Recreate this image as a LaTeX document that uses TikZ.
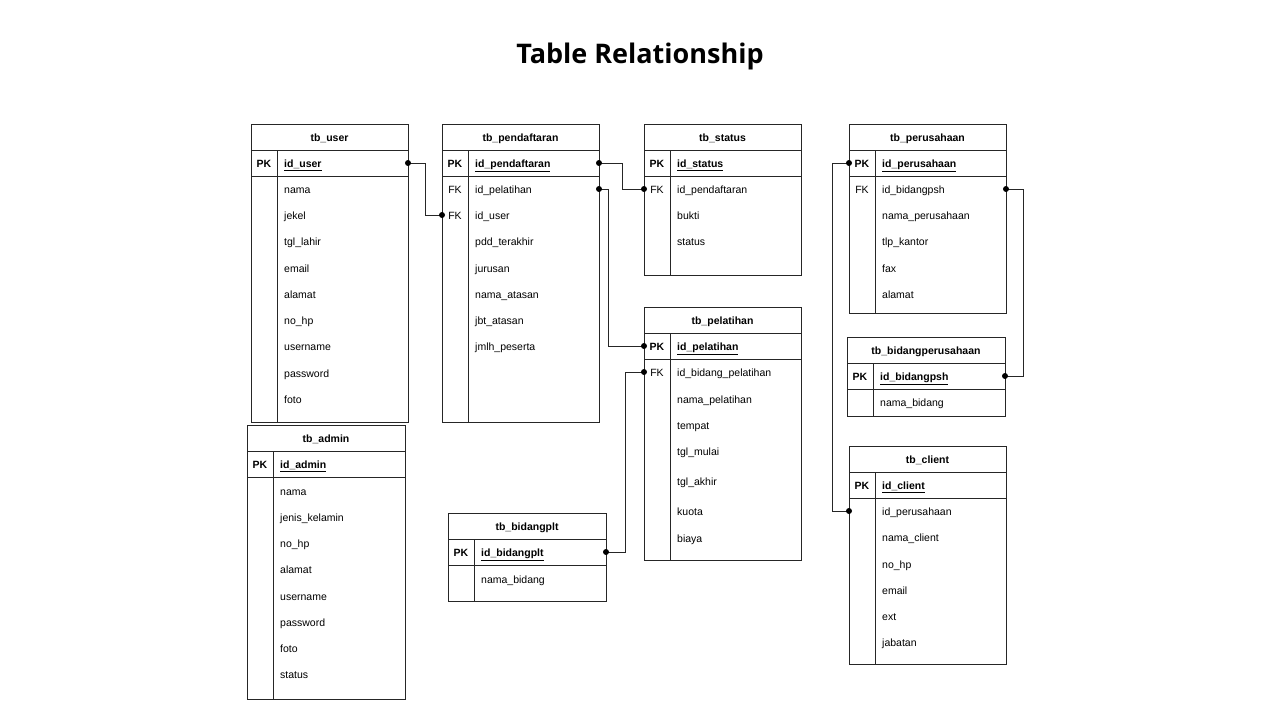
\documentclass[tikz,border=0pt]{standalone}
\usepackage{tikz}
\usepackage{fontspec}
\setmainfont{Liberation Sans}
\newfontfamily\titlefont{Open Sans}
\usetikzlibrary{calc}
\def\tbframe(#1,#2,#3,#4,#5){\draw[tbline] (#1,#2) rectangle (#3,#4); \draw[tbline] (#1,#2+26) -- (#3,#2+26); \draw[tbline] (#1,#2+52) -- (#3,#2+52); \draw[tbline] (#5,#2+26) -- (#5,#4);}

\begin{document}
\begin{tikzpicture}[x=1pt, y=-1pt,
		tbline/.style={line width=0.8pt, color=black!85},
		link/.style={line width=0.8pt, color=black!85},
		dot/.style={fill=black},
		cell/.style={inner sep=0pt, text height=9.5pt, text depth=0pt, font=\fontsize{10.5}{12}\selectfont},
		tbhead/.style={cell, font=\fontsize{10.5}{12}\selectfont\bfseries},
		pkey/.style={cell, font=\fontsize{10.5}{12}\selectfont\bfseries},
		fkey/.style={cell},
		pkfield/.style={cell, anchor=west, font=\fontsize{10.5}{12}\selectfont\bfseries},
		field/.style={cell, anchor=west}]
			%%%%% START %%%%%
			
			\useasboundingbox[fill=white] (0,0) rectangle (1280,720);
			
			\node[anchor=base, font=\titlefont\bfseries\fontsize{27}{32}\selectfont] (title) at (640,63) {Table Relationship};
			
			% tb_user
			\tbframe(251,124,408,422,277)
			\node[tbhead] (user) at (329.5,137) {tb\_user};
			\node[pkey] at (264,163) {PK};
			\node[pkfield] (user-id) at (284,163) {\underline{id\_user}};
			\node[field] at (284,189) {nama};
			\node[field] at (284,215) {jekel};
			\node[field] at (284,241) {tgl\_lahir};
			\node[field] at (284,268) {email};
			\node[field] at (284,294) {alamat};
			\node[field] at (284,320) {no\_hp};
			\node[field] at (284,346) {username};
			\node[field] at (284,373) {password};
			\node[field] at (284,399) {foto};
			\coordinate (user-pk) at (408,163);
			
			% tb_pendaftaran
			\tbframe(442,124,599,422,468)
			\node[tbhead] (pend) at (520.5,137) {tb\_pendaftaran};
			\node[pkey] at (455,163) {PK};
			\node[pkfield] (pend-id) at (475,163) {\underline{id\_pendaftaran}};
			\node[fkey] at (455,189) {FK};
			\node[field] (pend-plt) at (475,189) {id\_pelatihan};
			\node[fkey] at (455,215) {FK};
			\node[field] (pend-user) at (475,215) {id\_user};
			\node[field] at (475,241) {pdd\_terakhir};
			\node[field] at (475,268) {jurusan};
			\node[field] at (475,294) {nama\_atasan};
			\node[field] at (475,320) {jbt\_atasan};
			\node[field] at (475,346) {jmlh\_peserta};
			\coordinate (pend-pk) at (599,163);
			\coordinate (pend-fk1) at (599,189);
			\coordinate (pend-fk2) at (442,215);
			
			% tb_status
			\tbframe(644,124,801,275,670)
			\node[tbhead] (status) at (722.5,137) {tb\_status};
			\node[pkey] at (657,163) {PK};
			\node[pkfield] at (677,163) {\underline{id\_status}};
			\node[fkey] at (657,189) {FK};
			\node[field] at (677,189) {id\_pendaftaran};
			\node[field] at (677,215) {bukti};
			\node[field] at (677,241) {status};
			\coordinate (status-fk) at (644,189);
			
			% tb_perusahaan
			\tbframe(849,124,1006,313,875)
			\node[tbhead] (psh) at (927.5,137) {tb\_perusahaan};
			\node[pkey] at (862,163) {PK};
			\node[pkfield] at (882,163) {\underline{id\_perusahaan}};
			\node[fkey] at (862,189) {FK};
			\node[field] at (882,189) {id\_bidangpsh};
			\node[field] at (882,215) {nama\_perusahaan};
			\node[field] at (882,241) {tlp\_kantor};
			\node[field] at (882,268) {fax};
			\node[field] at (882,294) {alamat};
			\coordinate (psh-pk) at (849,163);
			\coordinate (psh-fk) at (1006,189);
			
			% tb_pelatihan
			\tbframe(644,307,801,560,670)
			\node[tbhead] (plt) at (722.5,320) {tb\_pelatihan};
			\node[pkey] at (657,346) {PK};
			\node[pkfield] at (677,346) {\underline{id\_pelatihan}};
			\node[fkey] at (657,372) {FK};
			\node[field] at (677,372) {id\_bidang\_pelatihan};
			\node[field] at (677,399) {nama\_pelatihan};
			\node[field] at (677,425) {tempat};
			\node[field] at (677,451) {tgl\_mulai};
			\node[field] at (677,481) {tgl\_akhir};
			\node[field] at (677,511) {kuota};
			\node[field] at (677,538) {biaya};
			\coordinate (plt-pk) at (644,346);
			\coordinate (plt-fk) at (644,372);
			
			% tb_bidangperusahaan
			\tbframe(847,337,1005,416,873)
			\node[tbhead] (bpsh) at (926,350) {tb\_bidangperusahaan};
			\node[pkey] at (860,376) {PK};
			\node[pkfield] at (880,376) {\underline{id\_bidangpsh}};
			\node[field] at (880,402) {nama\_bidang};
			\coordinate (bpsh-pk) at (1005,376);
			
			% tb_client
			\tbframe(849,446,1006,664,875)
			\node[tbhead] (client) at (927.5,459) {tb\_client};
			\node[pkey] at (862,485) {PK};
			\node[pkfield] at (882,485) {\underline{id\_client}};
			\node[field] at (882,511) {id\_perusahaan};
			\node[field] at (882,537) {nama\_client};
			\node[field] at (882,564) {no\_hp};
			\node[field] at (882,590) {email};
			\node[field] at (882,616) {ext};
			\node[field] at (882,642) {jabatan};
			\coordinate (client-fk) at (849,511);
			
			% tb_admin
			\tbframe(247,425,405,699,273)
			\node[tbhead] (admin) at (326,438) {tb\_admin};
			\node[pkey] at (260,464) {PK};
			\node[pkfield] at (280,464) {\underline{id\_admin}};
			\node[field] at (280,491) {nama};
			\node[field] at (280,517) {jenis\_kelamin};
			\node[field] at (280,543) {no\_hp};
			\node[field] at (280,569) {alamat};
			\node[field] at (280,596) {username};
			\node[field] at (280,622) {password};
			\node[field] at (280,648) {foto};
			\node[field] at (280,674) {status};
			
			% tb_bidangplt
			\tbframe(448,513,606,601,474)
			\node[tbhead] (bplt) at (527,526) {tb\_bidangplt};
			\node[pkey] at (461,552) {PK};
			\node[pkfield] at (481,552) {\underline{id\_bidangplt}};
			\node[field] at (481,579) {nama\_bidang};
			\coordinate (bplt-pk) at (606,552);
			
			% relations
			\draw[link] (user-pk) -- ++(17,0) |- (pend-fk2);
			\draw[link] (pend-pk) -- ++(23,0) |- (status-fk);
			\draw[link] (pend-fk1) -- ++(9,0) |- (plt-pk);
			\draw[link] (bplt-pk) -- ++(19,0) |- (plt-fk);
			\draw[link] (psh-pk) -- ++(-17,0) |- (client-fk);
			\draw[link] (psh-fk) -- ++(17,0) |- (bpsh-pk);
			
			\foreach \p in {user-pk,pend-fk2,pend-pk,status-fk,pend-fk1,plt-pk,bplt-pk,plt-fk,psh-pk,client-fk,psh-fk,bpsh-pk}
				\fill[dot] (\p) circle (3pt);
			
			%%%%% END %%%%%
		\end{tikzpicture}
\end{document}
